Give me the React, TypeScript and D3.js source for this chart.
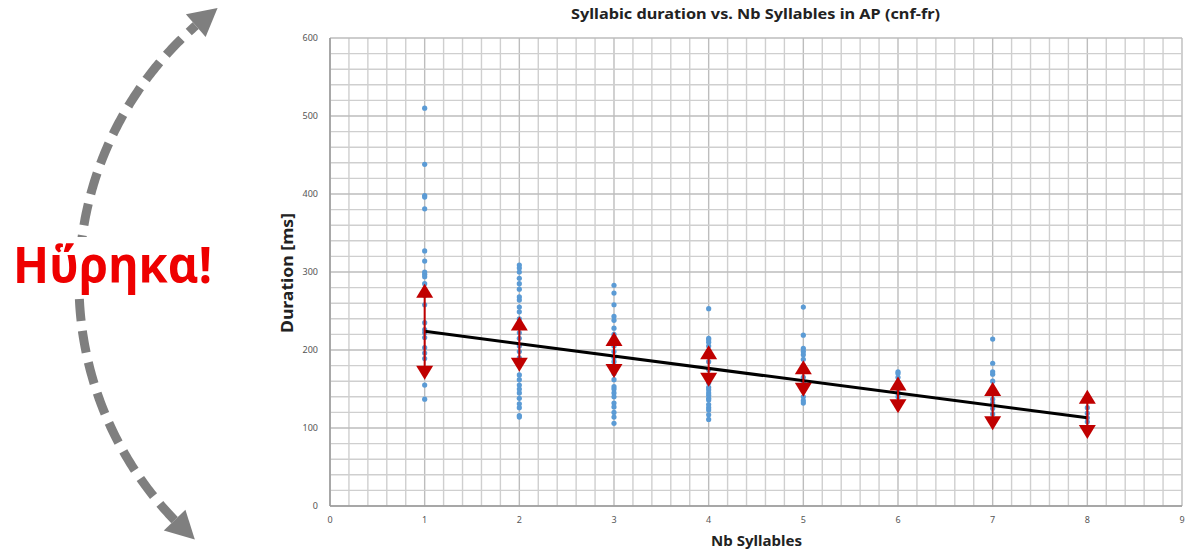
import React from "react";
import * as d3 from "d3";

// ---- data ----
const syllableCounts = [1, 2, 3, 4, 5, 6, 7, 8];
const dur1 = [510, 438, 398, 396, 381, 327, 314, 300, 297, 294, 285, 270, 258, 235, 226, 222, 216, 203, 196, 189, 155, 137];
const dur2 = [309, 305, 300, 292, 285, 278, 268, 264, 255, 249, 240, 229, 222, 215, 205, 198, 190, 180, 168, 162, 155, 150, 145, 138, 131, 126, 116, 114];
const dur3 = [283, 273, 258, 243, 238, 228, 220, 212, 205, 198, 190, 185, 178, 170, 162, 153, 150, 145, 140, 132, 127, 120, 114, 106];
const dur4 = [253, 215, 213, 210, 205, 198, 192, 185, 175, 165, 158, 152, 149, 145, 142, 138, 136, 130, 126, 123, 117, 111];
const dur5 = [255, 219, 202, 198, 194, 188, 180, 172, 165, 158, 150, 140, 135, 132];
const dur6 = [172, 170, 165, 158, 150, 145, 140, 132, 128];
const dur7 = [214, 183, 172, 169, 160, 150, 137, 132, 125, 118];
const dur8 = [126, 119, 113, 108];
const durations = [dur1, dur2, dur3, dur4, dur5, dur6, dur7, dur8];
const rangeUpper = [285, 243, 223, 206, 187, 166, 159, 149];
const rangeLower = [162, 172, 164, 153, 140, 119, 97, 86];
const trendX = [1, 8];
const trendY = [224, 113];
const xTicks = [0, 1, 2, 3, 4, 5, 6, 7, 8, 9];
const yTicks = [0, 100, 200, 300, 400, 500, 600];

const W = 1186;
const H = 550;
const FONT = "'Noto Sans', 'DejaVu Sans', sans-serif";

export default function App() {
  const x = d3.scaleLinear().domain([0, 9]).range([330, 1182]);
  const y = d3.scaleLinear().domain([0, 600]).range([506, 38]);

  const gridX = d3.range(0, 46).map((i) => i * 0.2);
  const gridY = d3.range(0, 31).map((i) => i * 20);

  const trend = d3
    .line<number>()
    .x((_, i) => x(trendX[i]))
    .y((d) => y(d))(trendY);

  // decorative curved dashed arrow on the left
  const cx = 421, cy = 283, r = 342;
  const aTop = (233.5 * Math.PI) / 180;
  const aBot = (131.4 * Math.PI) / 180;
  const headLen = 28;
  const dA = headLen / r;
  const arcPts = d3.range(0, 201).map((i) => {
    const a = aBot + dA + ((aTop - dA - (aBot + dA)) * i) / 200;
    return [cx + r * Math.cos(a), cy + r * Math.sin(a)] as [number, number];
  });
  const arcPath = d3.line()(arcPts);
  const head = (tipA: number, baseA: number) => {
    const tip = [cx + r * Math.cos(tipA), cy + r * Math.sin(tipA)];
    const bx = cx + r * Math.cos(baseA), by = cy + r * Math.sin(baseA);
    const nx = Math.cos(baseA), ny = Math.sin(baseA);
    const hw = 15;
    return `M${tip[0]},${tip[1]}L${bx + nx * hw},${by + ny * hw}L${bx - nx * hw},${by - ny * hw}Z`;
  };

  return (
    <svg width={W} height={H} style={{ display: "block", position: "absolute", left: 0, top: 0, background: "#fff" }}>
      {/* grid */}
      <g>
        {gridX.map((v, i) => (
          <line key={"gx" + i} x1={x(v)} x2={x(v)} y1={y(0)} y2={y(600)}
            stroke={i % 5 === 0 ? "#bdbdbd" : "#cfcfcf"} strokeWidth={1.4} />
        ))}
        {gridY.map((v, i) => (
          <line key={"gy" + i} x1={x(0)} x2={x(9)} y1={y(v)} y2={y(v)}
            stroke={i % 5 === 0 ? "#bdbdbd" : "#cfcfcf"} strokeWidth={1.4} />
        ))}
        <line x1={x(0)} x2={x(0)} y1={y(0)} y2={y(600)} stroke="#9a9a9a" strokeWidth={1.5} />
        <line x1={x(0)} x2={x(9)} y1={y(0)} y2={y(0)} stroke="#9a9a9a" strokeWidth={1.5} />
      </g>

      {/* ticks */}
      <g fontFamily={FONT} fontSize={9} fill="#555">
        {yTicks.map((t) => (
          <text key={"yt" + t} x={318} y={y(t)} dy="0.35em" textAnchor="end">{t}</text>
        ))}
        {xTicks.map((t) => (
          <text key={"xt" + t} x={x(t)} y={523} textAnchor="middle">{t}</text>
        ))}
      </g>

      {/* points */}
      <g fill="#5b9bd5">
        {durations.map((arr, ci) =>
          arr.map((v, j) => (
            <circle key={ci + "-" + j} cx={x(syllableCounts[ci])} cy={y(v)} r={2.6} />
          ))
        )}
      </g>

      {/* trend line */}
      <path d={trend || ""} fill="none" stroke="#000" strokeWidth={3} />

      {/* range arrows */}
      <g fill="#c00000">
        {syllableCounts.map((c, i) => {
          const cxp = x(c);
          const yt = y(rangeUpper[i]);
          const yb = y(rangeLower[i]);
          return (
            <g key={"ar" + c}>
              <line x1={cxp} x2={cxp} y1={yt + 10} y2={yb - 10} stroke="#c00000" strokeWidth={2} />
              <path d={`M${cxp},${yt}L${cxp + 8.5},${yt + 14}L${cxp - 8.5},${yt + 14}Z`} />
              <path d={`M${cxp},${yb}L${cxp + 8.5},${yb - 14}L${cxp - 8.5},${yb - 14}Z`} />
            </g>
          );
        })}
      </g>

      {/* titles */}
      <text x={755.5} y={19} textAnchor="middle" fontFamily={FONT} fontWeight="bold" fontSize={15} fill="#222"
        textLength={369} lengthAdjust="spacingAndGlyphs">
        Syllabic duration vs. Nb Syllables in AP (cnf-fr)
      </text>
      <text x={756.5} y={546} textAnchor="middle" fontFamily={FONT} fontWeight="bold" fontSize={15} fill="#222"
        textLength={91} lengthAdjust="spacingAndGlyphs">
        Nb Syllables
      </text>
      <text transform="translate(293,273) rotate(-90)" textAnchor="middle" fontFamily={FONT} fontWeight="bold" fontSize={16} fill="#222"
        textLength={120} lengthAdjust="spacingAndGlyphs">
        Duration [ms]
      </text>

      {/* left decoration */}
      <path d={arcPath || ""} fill="none" stroke="#7f7f7f" strokeWidth={9} strokeDasharray="22 10" />
      <path d={head(aTop, aTop - dA)} fill="#7f7f7f" />
      <path d={head(aBot, aBot + dA)} fill="#7f7f7f" />
      <rect x={0} y={237} width={230} height={53} fill="#fff" />
      <text x={13} y={283} fontFamily={FONT} fontWeight="bold" fontSize={50} fill="#ee0000"
        textLength={199} lengthAdjust="spacingAndGlyphs">
        Ηὕρηκα!
      </text>
    </svg>
  );
}
